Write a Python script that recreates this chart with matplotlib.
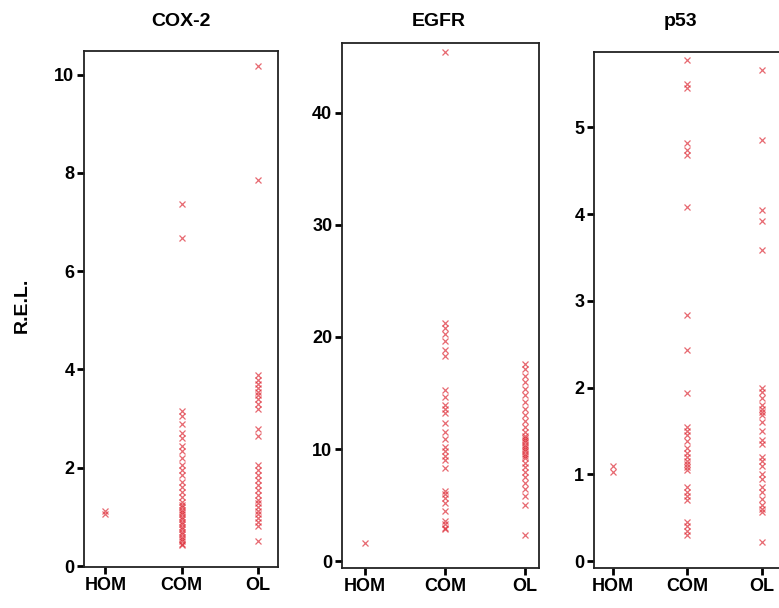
import matplotlib
matplotlib.use('Agg')
import matplotlib.pyplot as plt

plt.rcParams['font.family'] = ['Liberation Sans', 'DejaVu Sans']

groups = ['HOM', 'COM', 'OL']
panels = ['COX-2', 'EGFR', 'p53']

# COX-2 relative expression levels
cox2_hom = [1.05, 1.12]
cox2_com = [7.37, 6.68, 3.15, 3.05, 2.9, 2.7, 2.6, 2.45, 2.35, 2.2, 2.05, 1.95,
            1.85, 1.7, 1.6, 1.5, 1.4, 1.3, 1.25, 1.2, 1.15, 1.1, 1.05, 1.0,
            0.95, 0.9, 0.85, 0.8, 0.75, 0.7, 0.65, 0.6, 0.55, 0.5, 0.45, 0.42]
cox2_ol = [10.17, 7.86, 3.88, 3.78, 3.7, 3.62, 3.55, 3.48, 3.4, 3.3, 3.2, 2.78,
           2.65, 2.05, 1.95, 1.85, 1.75, 1.65, 1.55, 1.45, 1.35, 1.28, 1.2,
           1.12, 1.05, 0.98, 0.9, 0.82, 0.5]

# EGFR
egfr_hom = [1.6]
egfr_com = [45.4, 21.2, 20.8, 20.3, 19.6, 18.8, 18.3, 15.3, 14.6, 13.9, 13.6,
            13.2, 12.3, 11.5, 10.9, 10.2, 9.8, 9.4, 9.0, 8.3, 6.3, 6.0, 5.6,
            5.2, 4.5, 3.6, 3.3, 3.0, 2.9]
egfr_ol = [17.6, 17.1, 16.5, 16.0, 15.4, 14.8, 14.2, 13.6, 13.0, 12.5, 12.0,
           11.5, 11.2, 11.0, 10.8, 10.6, 10.4, 10.2, 10.0, 9.8, 9.6, 9.4, 9.2,
           8.8, 8.4, 8.0, 7.5, 7.0, 6.4, 5.8, 5.0, 2.3]

# p53
p53_hom = [1.03, 1.1]
p53_com = [5.78, 5.5, 5.45, 4.82, 4.74, 4.68, 4.08, 2.84, 2.43, 1.94, 1.55,
           1.5, 1.45, 1.38, 1.3, 1.25, 1.2, 1.15, 1.12, 1.08, 1.05, 0.85, 0.8,
           0.75, 0.7, 0.45, 0.4, 0.35, 0.3]
p53_ol = [5.66, 4.86, 4.05, 3.92, 3.59, 2.0, 1.95, 1.88, 1.8, 1.75, 1.72,
          1.68, 1.6, 1.5, 1.4, 1.35, 1.2, 1.15, 1.1, 1.0, 0.95, 0.85, 0.8,
          0.72, 0.65, 0.6, 0.57, 0.22]

data = {
    'COX-2': [cox2_hom, cox2_com, cox2_ol],
    'EGFR': [egfr_hom, egfr_com, egfr_ol],
    'p53': [p53_hom, p53_com, p53_ol],
}
y_ticks = {
    'COX-2': [0, 2, 4, 6, 8, 10],
    'EGFR': [0, 10, 20, 30, 40],
    'p53': [0, 1, 2, 3, 4, 5],
}

W, H = 779, 608
fig = plt.figure(figsize=(W / 100, H / 100), dpi=100)

# axes boxes in pixels: left, top, right, bottom
boxes = {
    'COX-2': (84, 51, 278, 567),
    'EGFR': (342, 43, 539, 568),
    'p53': (594, 52, 782, 568),
}
xlims = {
    'COX-2': (0.72, 3.26),
    'EGFR': (0.71, 3.18),
    'p53': (0.745, 3.27),
}
ylims = {
    'COX-2': (-0.02, 10.48),
    'EGFR': (-0.6, 46.2),
    'p53': (-0.08, 5.87),
}
title_x = {'COX-2': 181, 'EGFR': 439, 'p53': 681}

for name in panels:
    l, t, r, b = boxes[name]
    ax = fig.add_axes([l / W, (H - b) / H, (r - l) / W, (b - t) / H])
    for i, vals in enumerate(data[name]):
        ax.plot([i + 1] * len(vals), vals, linestyle='none', marker='x',
                ms=3.8, mew=0.9, color='#dd2a35', alpha=0.7)
    ax.set_xlim(*xlims[name])
    ax.set_ylim(*ylims[name])
    ax.set_xticks([1, 2, 3])
    ax.set_xticklabels(groups, fontsize=13, fontweight='bold')
    ax.set_yticks(y_ticks[name])
    ax.set_yticklabels([str(v) for v in y_ticks[name]], fontsize=13,
                       fontweight='bold')
    ax.tick_params(axis='both', length=5, width=2, color='black', pad=2)
    for s in ax.spines.values():
        s.set_linewidth(1.3)
        s.set_color('#222222')
    fig.text(title_x[name] / W, 1 - 22 / H, name, fontsize=14,
             fontweight='bold', ha='center', va='center')

fig.text(22 / W, 1 - 305 / H, 'R.E.L.', rotation=90, fontsize=14,
         fontweight='bold', ha='center', va='center')

plt.savefig('out.png', dpi=100)
